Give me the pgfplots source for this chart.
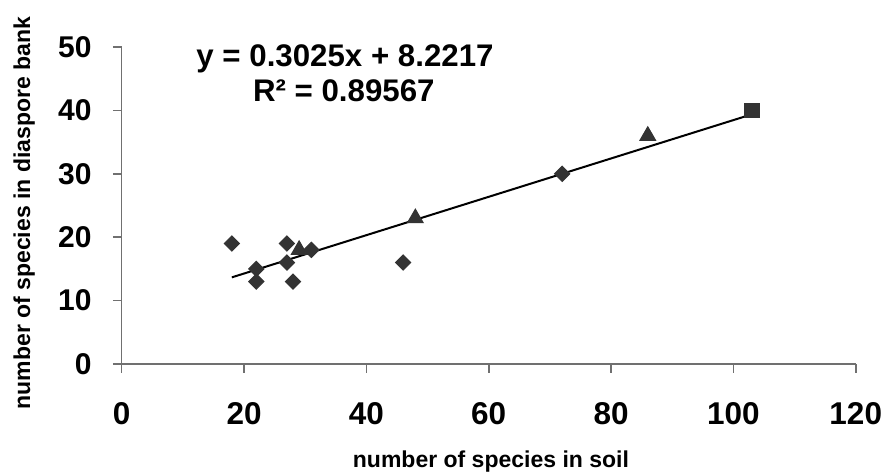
\documentclass[border=0pt]{standalone}
\usepackage{fontspec}
\setmainfont{Liberation Sans}
\usepackage{pgfplots}
\pgfplotsset{compat=1.18}
\definecolor{mk}{HTML}{333333}
\definecolor{ax}{HTML}{707070}
\begin{document}
\begin{tikzpicture}
\path[use as bounding box] (-48.7pt,-43.6pt) rectangle (304.9pt,145.6pt);
\begin{axis}[
  at={(0,0)}, anchor=south west,
  scale only axis, width=293.6pt, height=126.8pt,
  xmin=0, xmax=120, ymin=0, ymax=50,
  axis lines*=left,
  axis line style={ax, line width=0.6pt},
  xtick={0,20,...,120}, ytick={0,10,...,50},
  tick align=outside, major tick length=3.5pt,
  tick style={ax, line width=0.6pt},
  /pgf/number format/assume math mode=true,
  ticklabel style={font=\fontsize{12}{14}\selectfont\bfseries, inner sep=0pt},
  xticklabel style={anchor=north, font=\fontsize{12.6}{14}\selectfont\bfseries},
  yticklabel style={anchor=east},
  xticklabel shift=11.7pt,
  yticklabel shift=8.4pt,
  every axis x label/.style={at={(axis description cs:0.503,-0.2713)}, anchor=north, inner sep=0pt, font=\fontsize{9.2}{11}\selectfont\bfseries},
  every axis y label/.style={at={(axis description cs:-0.1482,0.476)}, rotate=90, anchor=north, inner sep=0pt, font=\fontsize{9.2}{11}\selectfont\bfseries},
  xlabel={number of species in soil},
  ylabel={number of species in diaspore bank},
  clip=false,
]
% trend line y = 0.3025x + 8.2217
\addplot[black, line width=0.8pt, mark=none] coordinates {(18,13.667) (103,39.379)};
% diamonds
\addplot[only marks, mark=square*, mark size=2.15pt, mark options={rotate=45, fill=mk, draw=mk}]
  coordinates {(18,19) (22,15) (22,13) (27,19) (27,16) (28,13) (31,18) (46,16) (72,30)};
% triangles
\addplot[only marks, mark=triangle*, mark size=3.6pt, mark options={fill=mk, draw=mk}]
  coordinates {(29,18) (48,23) (86,36)};
% square
\addplot[only marks, mark=square*, mark size=2.9pt, mark options={fill=mk, draw=mk}]
  coordinates {(103,40)};
\node[anchor=base, inner sep=0pt, font=\fontsize{12.5}{14}\selectfont\bfseries] at (axis cs:36.5,47.0) {y = 0.3025x + 8.2217};
\node[anchor=base, inner sep=0pt, font=\fontsize{12.5}{14}\selectfont\bfseries] at (axis cs:36.3,41.37) {R² = 0.89567};
\end{axis}
\end{tikzpicture}
\end{document}
